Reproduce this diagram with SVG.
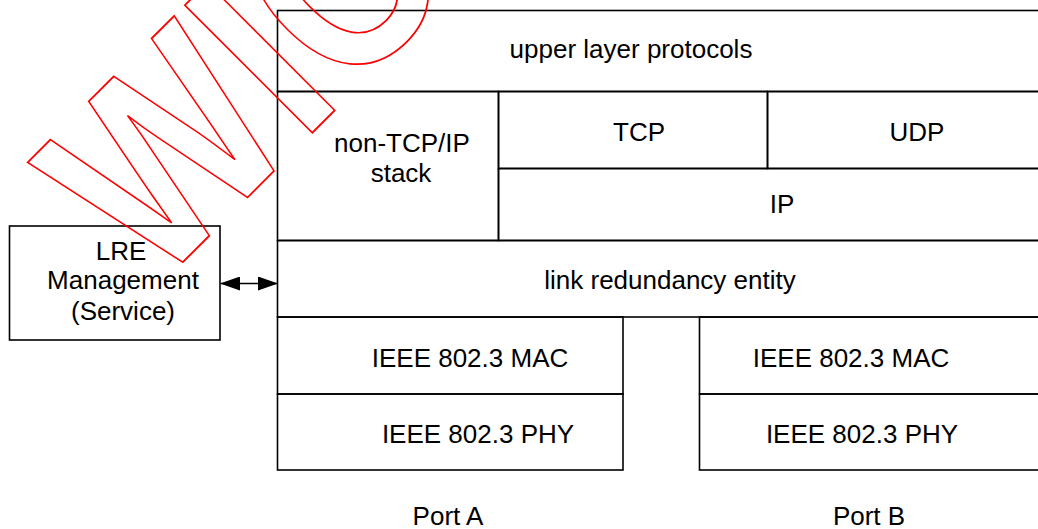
<svg xmlns="http://www.w3.org/2000/svg" width="1038" height="529" viewBox="0 0 1038 529">
  <defs>
    <style>
      .box { fill: none; stroke: #000; stroke-width: 1.6; }
      .ln { stroke: #000; stroke-width: 1.6; fill: none; }
      .t { font-family: "Liberation Sans", Arial, sans-serif; font-size: 26px; fill: #000; text-anchor: middle; }
      .wm { font-family: "Liberation Sans", Arial, sans-serif; font-weight: bold; font-size: 262px; fill: none; stroke: #ff0000; stroke-width: 1.7; }
    </style>
    <marker id="ah" viewBox="0 0 20 14" refX="19" refY="7" markerWidth="20" markerHeight="14" markerUnits="userSpaceOnUse" orient="auto-start-reverse">
      <path d="M0,0 L20,7 L0,14 Z" fill="#000"/>
    </marker>
  </defs>
  <rect width="1038" height="529" fill="#fff"/>

  <g id="upper-layer-protocols">
    <rect class="box" x="277.5" y="10.5" width="780" height="81"/>
    <text class="t" x="631" y="58">upper layer protocols</text>
  </g>
  <g id="non-tcpip-stack">
    <rect class="box" x="277.5" y="91.5" width="221" height="149"/>
    <text class="t" x="402" y="152">non-TCP/IP</text>
    <text class="t" x="401" y="182">stack</text>
  </g>
  <g id="tcp">
    <rect class="box" x="498.5" y="91.5" width="269" height="77"/>
    <text class="t" x="639" y="141">TCP</text>
  </g>
  <g id="udp">
    <rect class="box" x="767.5" y="91.5" width="290" height="77"/>
    <text class="t" x="917" y="141">UDP</text>
  </g>
  <g id="ip">
    <rect class="box" x="498.5" y="168.5" width="559" height="72"/>
    <text class="t" x="782" y="213">IP</text>
  </g>
  <g id="link-redundancy-entity">
    <rect class="box" x="277.5" y="240.5" width="780" height="76.5"/>
    <text class="t" x="670" y="289">link redundancy entity</text>
  </g>
  <g id="mac-a">
    <rect class="box" x="277.5" y="317" width="345.5" height="77"/>
    <text class="t" x="470" y="367">IEEE 802.3 MAC</text>
  </g>
  <g id="phy-a">
    <rect class="box" x="277.5" y="394" width="345.5" height="76"/>
    <text class="t" x="478" y="443">IEEE 802.3 PHY</text>
  </g>
  <g id="mac-b">
    <rect class="box" x="699.5" y="317" width="358" height="77"/>
    <text class="t" x="851" y="367">IEEE 802.3 MAC</text>
  </g>
  <g id="phy-b">
    <rect class="box" x="699.5" y="394" width="358" height="76"/>
    <text class="t" x="862" y="443">IEEE 802.3 PHY</text>
  </g>
  <g id="port-a">
    <text class="t" x="448" y="525">Port A</text>
  </g>
  <g id="port-b">
    <text class="t" x="869" y="525">Port B</text>
  </g>
  <g id="lre-management">
    <rect class="box" x="9.5" y="226" width="210.5" height="114"/>
    <text class="t" x="121" y="260">LRE</text>
    <text class="t" x="123" y="289">Management</text>
    <text class="t" x="123" y="320">(Service)</text>
  </g>

  <g id="connectors">
    <line class="ln" x1="221" y1="283.5" x2="277" y2="283.5" marker-start="url(#ah)" marker-end="url(#ah)"/>
  </g>

  <g id="watermark">
    <text class="wm" transform="translate(155,290) rotate(-45) scale(0.84,1)" vector-effect="non-scaling-stroke">WIC</text>
  </g>
</svg>
